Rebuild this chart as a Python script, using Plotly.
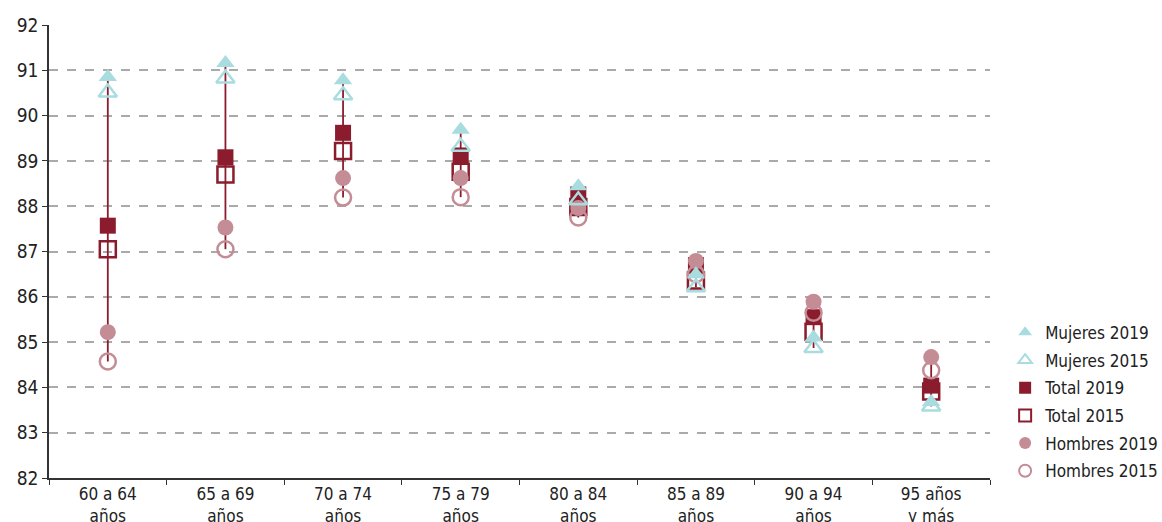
import plotly.graph_objects as go

categories = ["60 a 64<br>años", "65 a 69<br>años", "70 a 74<br>años", "75 a 79<br>años",
              "80 a 84<br>años", "85 a 89<br>años", "90 a 94<br>años", "95 años<br>y más"]

mujeres_2019 = [90.85, 91.16, 90.78, 89.69, 88.44, 86.50, 85.10, 83.68]
mujeres_2015 = [90.51, 90.82, 90.45, 89.31, 88.13, 86.21, 84.87, 83.58]
total_2019 = [87.57, 89.08, 89.62, 89.12, 88.26, 86.70, 85.55, 84.04]
total_2015 = [87.05, 88.70, 89.22, 88.76, 87.98, 86.36, 85.23, 83.91]
hombres_2019 = [85.22, 87.53, 88.62, 88.62, 87.96, 86.79, 85.89, 84.67]
hombres_2015 = [84.57, 87.05, 88.19, 88.20, 87.75, 86.50, 85.65, 84.38]

C_MUJ = "#A8DCDE"
C_TOT = "#8B1C2D"
C_HOM = "#C48C95"
FONT = "DejaVu Sans Condensed, Liberation Sans Narrow, sans-serif"

fig = go.Figure()

# vertical range line per age group
all_series = [mujeres_2019, mujeres_2015, total_2019, total_2015, hombres_2019, hombres_2015]
lx, ly = [], []
for i, c in enumerate(categories):
    vals = [s[i] for s in all_series]
    lx += [c, c, None]
    ly += [max(vals), min(vals), None]
fig.add_trace(go.Scatter(x=lx, y=ly, mode="lines", line=dict(color=C_TOT, width=1.8),
                         showlegend=False, hoverinfo="skip"))

series = [
    ("Total 2019", total_2019, "square", C_TOT, 3),
    ("Total 2015", total_2015, "square-open", C_TOT, 4),
    ("Hombres 2019", hombres_2019, "circle", C_HOM, 5),
    ("Hombres 2015", hombres_2015, "circle-open", C_HOM, 6),
    ("Mujeres 2019", mujeres_2019, "triangle-up", C_MUJ, 1),
    ("Mujeres 2015", mujeres_2015, "triangle-up-open", C_MUJ, 2),
]
for name, vals, sym, col, rank in series:
    fig.add_trace(go.Scatter(
        x=categories, y=vals, mode="markers", name=name, legendrank=rank,
        legendgroup=name,
        marker=dict(symbol=sym, color=col, size=16,
                    line=dict(color=col, width=2.5 if "open" in sym else 0)),
    ))

fig.update_layout(
    width=1162, height=522,
    margin=dict(l=49, r=172, t=25, b=44),
    plot_bgcolor="white", paper_bgcolor="white",
    font=dict(family=FONT, size=17, color="#222222"),
    showlegend=True,
    legend=dict(xref="container", yref="container", x=0.865, y=0.397,
                xanchor="left", yanchor="top",
                font=dict(family=FONT, size=17, color="#222222"),
                tracegroupgap=2.6, itemsizing="constant"),
)
fig.update_xaxes(
    type="category", showline=True, linecolor="#333333", linewidth=1.5,
    ticks="outside", ticklen=5, tickcolor="#333333", tickson="boundaries",
    showgrid=False, tickfont=dict(size=17), range=[-0.5, 7.5], automargin=False,
)
fig.update_yaxes(
    range=[82, 92], dtick=1, showline=True, linecolor="#333333", linewidth=1.5,
    ticks="outside", ticklen=5, tickcolor="#333333",
    showgrid=True, gridcolor="#AAAAAA", gridwidth=1.5, griddash="dash",
    zeroline=False, tickfont=dict(size=19), automargin=False,
)

# drop the default 8px page margin so the figure fills the window exactly
fig.write_html("out.html", config={"displayModeBar": False},
               post_script="document.body.style.margin='0';")
